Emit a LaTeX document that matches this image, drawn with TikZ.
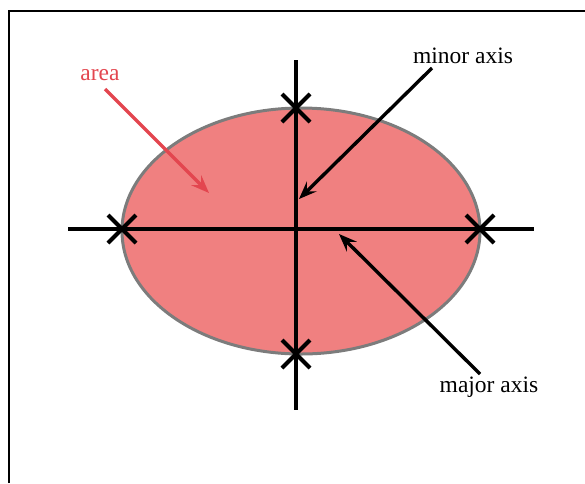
\documentclass[tikz,border=0pt]{standalone}
\usepackage{fontspec}
\setmainfont{Liberation Serif}
\usetikzlibrary{arrows.meta, shapes.geometric}
\definecolor{cfill}{HTML}{F08080}
\definecolor{cedge}{HTML}{7C7C7C}
\definecolor{cred}{HTML}{E3464F}
\tikzset{
  every picture/.style={line width=1.2pt},
  axisline/.style={draw=black, line width=4.8pt},
  cross/.style={draw=black, line width=4pt},
  arrow/.style={-{Stealth[length=18pt, width=14pt, inset=7pt]}, draw=black, line width=3.4pt},
  label/.style={font=\fontsize{23.5}{27}\selectfont, inner sep=0pt, anchor=base},
}

\begin{document}
\begin{tikzpicture}[
    x=1pt, y=-1pt,
    oval/.style={ellipse, draw=cedge, fill=cfill, line width=3pt, minimum width=358pt, minimum height=246pt, inner sep=0pt},
    redarrow/.style={arrow, draw=cred, fill=cred},
  ]
  \useasboundingbox (0,0) rectangle (585,483);
  \draw[line width=1.6pt] (9,483) -- (9,11) -- (585,11);

  % ---- ellipse and its axes
  \node[oval] (oval) at (301,231) {};
  \coordinate (hl) at (68,229);
  \coordinate (hr) at (534,229);
  \coordinate (vt) at (296,60);
  \coordinate (vb) at (296,410);
  \draw[axisline] (hl) -- (hr);
  \draw[axisline] (vt) -- (vb);

  % ---- ends of the axes
  \coordinate (le) at (122,229);
  \coordinate (ri) at (480,229);
  \coordinate (to) at (296,108);
  \coordinate (bo) at (296,354);
  \foreach \p in {le, ri, to, bo} {
    \draw[cross] ([shift={(-14,-14)}]\p) -- ([shift={(14,14)}]\p);
    \draw[cross] ([shift={(-14,14)}]\p) -- ([shift={(14,-14)}]\p);
  }

  % ---- labels
  \node[label, text=cred] (area)  at (100,80)  {area};
  \node[label] (minor) at (463,63)  {minor axis};
  \node[label] (major) at (489,392) {major axis};

  % ---- arrows
  \coordinate (areatail) at (105,89);
  \coordinate (areatip)  at (209,193);
  \coordinate (minortail) at (432,68);
  \coordinate (minortip)  at (299,199);
  \coordinate (majortail) at (480,374);
  \coordinate (majortip)  at (339,234);
  \draw[redarrow] (areatail) -- (areatip);
  \draw[arrow] (minortail) -- (minortip);
  \draw[arrow] (majortail) -- (majortip);
\end{tikzpicture}
\end{document}
